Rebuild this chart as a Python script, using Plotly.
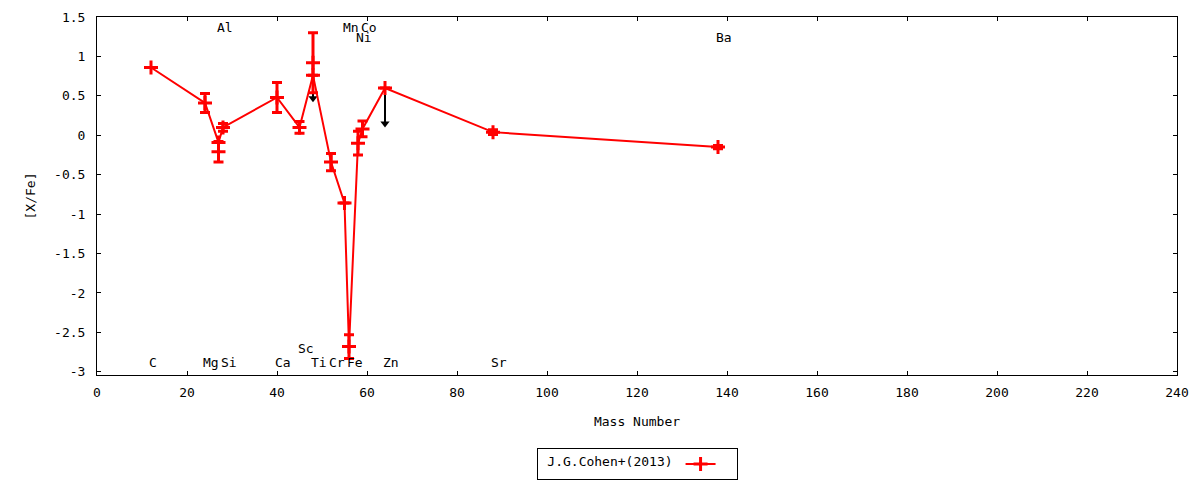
import plotly.graph_objects as go

# ---- data ----
elements = ["C", "Mg", "Al", "Si", "Ca", "Sc", "Ti", "Cr", "Mn", "Fe", "Ni", "Co", "Zn", "Sr", "Ba"]
mass = [12, 24, 27, 28, 40, 45, 48, 52, 55, 56, 58, 59, 64, 88, 138]
xfe = [0.86, 0.41, -0.09, 0.10, 0.48, 0.10, 0.76, -0.34, -0.86, -2.68, -0.10, 0.08, 0.60, 0.04, -0.15]
xfe_err = [0.0, 0.12, 0.0, 0.05, 0.19, 0.075, 0.0, 0.11, 0.0, 0.15, 0.15, 0.10, 0.0, 0.03, 0.02]

# additional species measurements (no connecting line)
extra_mass = [27, 48]
extra_xfe = [-0.21, 0.92]
extra_err = [0.13, 0.38]

# upper limits (drawn as downward arrows)
ul_mass = [48, 64]
ul_xfe = [0.92, 0.60]
ul_len = 0.5

# element label rows
label_row = ["bottom", "bottom", "top", "bottom", "bottom", "bottom2", "bottom",
             "bottom", "top", "bottom", "top2", "top", "bottom", "bottom", "top2"]
row_y = {"top": 1.367, "top2": 1.234, "bottom": -2.886, "bottom2": -2.709}

x_ticks = list(range(0, 241, 20))
y_ticks = [1.5, 1, 0.5, 0, -0.5, -1, -1.5, -2, -2.5, -3]
y_tick_text = ["1.5", "1", "0.5", "0", "-0.5", "-1", "-1.5", "-2", "-2.5", "-3"]

legend_label = "J.G.Cohen+(2013)"

FONT = "DejaVu Sans Mono"
RED = "#ff0000"
PX_PER_UNIT = 78.9

fig = go.Figure()

# upper-limit arrows (under the red marks)
for m, v in zip(ul_mass, ul_xfe):
    fig.add_trace(go.Scatter(
        x=[m, m], y=[v, v - ul_len + 4.0 / PX_PER_UNIT], mode="lines",
        line=dict(color="black", width=2), showlegend=False, hoverinfo="skip"))
    fig.add_trace(go.Scatter(
        x=[m], y=[v - ul_len + 4.0 / PX_PER_UNIT], mode="markers",
        marker=dict(symbol="triangle-down", size=8, color="black"),
        showlegend=False, hoverinfo="skip"))

marker_style = dict(symbol="cross-thin", size=10, color=RED, line=dict(color=RED, width=3))
err_style = dict(type="data", thickness=3, width=5, color=RED)

fig.add_trace(go.Scatter(
    x=extra_mass, y=extra_xfe, mode="markers",
    error_y=dict(array=extra_err, **err_style),
    marker=marker_style, showlegend=False))

fig.add_trace(go.Scatter(
    x=mass, y=xfe, mode="lines+markers", name="",
    line=dict(color=RED, width=2),
    error_y=dict(array=xfe_err, **err_style),
    marker=marker_style, showlegend=True))

for el, m, r in zip(elements, mass, label_row):
    fig.add_annotation(x=m, y=row_y[r], text=el, showarrow=False,
                       xanchor="left", yanchor="middle", xshift=-3, borderpad=0,
                       font=dict(family=FONT, size=13, color="black"))

axis_common = dict(showline=True, linecolor="black", linewidth=1, mirror="ticks",
                   ticks="inside", ticklen=4, tickcolor="black", showgrid=False,
                   zeroline=False, tickfont=dict(family=FONT, size=13, color="black"))

fig.update_layout(
    width=1192, height=472,
    margin=dict(l=89, r=23, t=9, b=105, autoexpand=False),
    paper_bgcolor="white", plot_bgcolor="white",
    font=dict(family=FONT, size=13, color="black"),
    xaxis=dict(range=[0, 240], tickvals=x_ticks, ticklabelstandoff=5,
               title=dict(text="Mass Number", standoff=18, font=dict(family=FONT, size=13)),
               **axis_common),
    yaxis=dict(range=[-3.04, 1.5], tickvals=y_ticks, ticktext=y_tick_text, ticklabelstandoff=8,
               title=dict(text="[X/Fe]", standoff=15, font=dict(family=FONT, size=13)),
               **axis_common),
    legend=dict(orientation="h", x=0.5, xanchor="center", y=-0.2933, yanchor="bottom",
                bordercolor="black", borderwidth=1, bgcolor="white",
                entrywidth=10,
                title=dict(text=" " + legend_label, side="left",
                           font=dict(family=FONT, size=13)),
                font=dict(family=FONT, size=13)),
    showlegend=True,
)

fig.write_html("out.html")
